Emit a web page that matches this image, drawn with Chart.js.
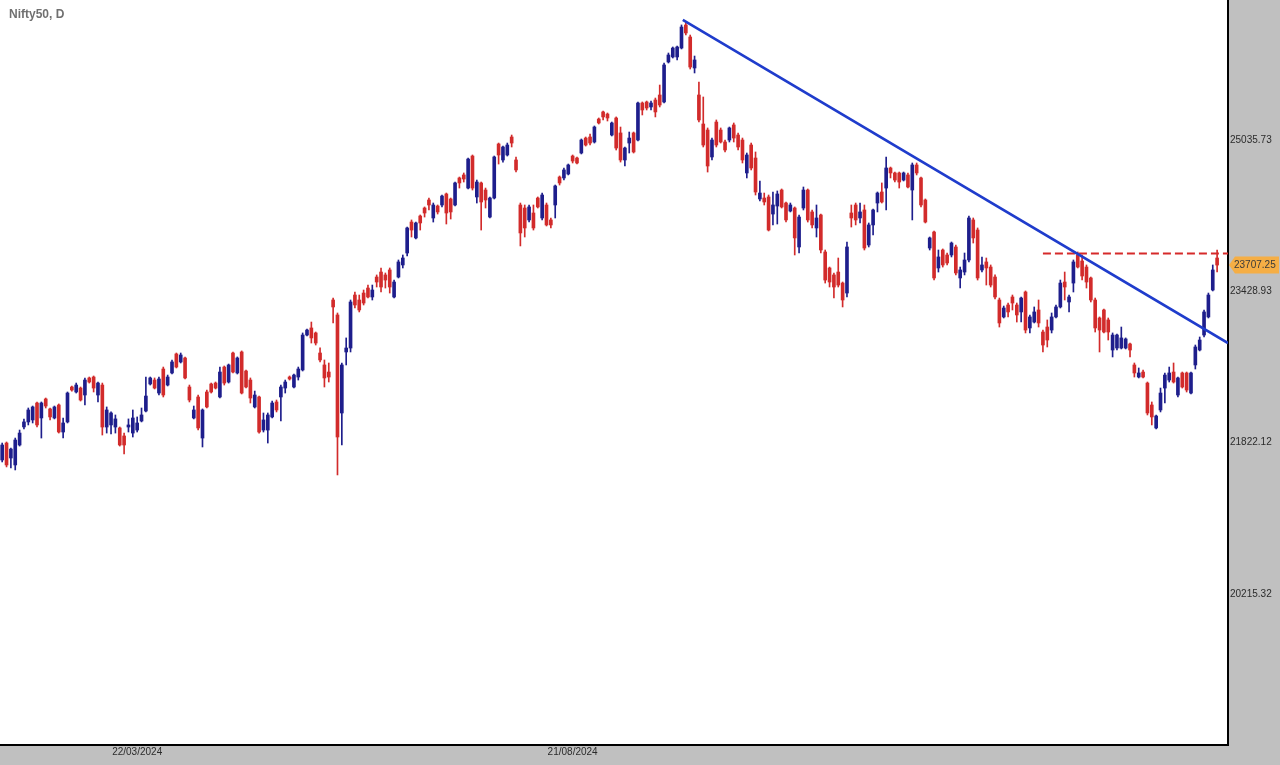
<!DOCTYPE html>
<html>
<head>
<meta charset="utf-8">
<script src="https://cdn.jsdelivr.net/npm/chart.js@4.4.1/dist/chart.umd.min.js"></script>
<style>
  html, body { margin: 0; padding: 0; background: #c0c0c0; }
  #wrap { position: relative; width: 1280px; height: 765px; }
  #title { position: absolute; left: 9px; top: 7px; font: bold 12px "Liberation Sans", Arial, sans-serif; color: #707070; }
</style>
</head>
<body>
<div id="wrap">
  <canvas id="chart" width="1280" height="765"></canvas>
  <div id="title">Nifty50, D</div>
</div>
<script>
// daily candles (index 0 = first bar on the left)
const opens = [21637,21817,21658,21584,21796,21988,22041,22062,22242,22083,22285,22179,22083,22221,21934,22041,22412,22359,22401,22327,
  22508,22518,22327,22433,21987,22009,21987,21977,21892,21987,21923,21955,22051,22157,22444,22486,22348,22603,22433,22561,
  22763,22678,22720,22412,22083,22306,21870,22359,22444,22454,22306,22624,22465,22773,22561,22784,22582,22486,22200,22306,
  21955,21955,22094,22253,22306,22401,22518,22412,22518,22593,22964,23039,22986,22773,22646,22571,23336,23177,22136,22784,
  22826,23389,23336,23410,23463,23368,23580,23633,23602,23655,23368,23580,23708,23835,24164,23995,24228,24313,24398,24207,
  24334,24345,24462,24409,24345,24632,24664,24525,24865,24430,24579,24504,24217,24419,24993,24823,24876,25067,24823,24345,
  24313,24186,24260,24419,24207,24345,24186,24345,24642,24632,24674,24865,24844,24897,25056,25067,25014,25258,25333,25311,
  25088,25269,25110,24823,25003,25110,25035,25428,25439,25386,25460,25513,25439,25864,25917,25917,26012,26257,26129,25800,
  25513,25205,25141,24855,25226,25141,25014,25035,25195,25088,25035,24685,24982,24844,24409,24419,24430,24249,24334,24504,
  24366,24281,24313,23899,24313,24504,24271,24101,24239,23846,23676,23602,23633,23516,23410,24260,24345,24207,24292,23920,
  24133,24366,24483,24525,24738,24685,24685,24610,24664,24504,24770,24632,24398,23888,24058,23676,23867,23814,23814,23899,
  23570,23633,23761,24186,24079,23655,23740,23686,23580,23336,23156,23283,23368,23283,23209,23421,23039,23102,23230,22996,
  23049,23017,23156,23262,23527,23315,23516,23814,23750,23686,23570,23336,23145,23230,23124,22805,22826,22826,22826,22869,
  22646,22518,22571,22454,22221,21977,22168,22401,22486,22571,22327,22561,22561,22348,22646,22805,22964,23156,23442,23782];

const highs = [21817,21828,21764,21870,21955,22072,22189,22210,22253,22253,22295,22189,22210,22232,22083,22359,22423,22454,22412,22508,
  22518,22529,22465,22454,22200,22147,22115,21987,21923,22073,22168,22094,22189,22518,22518,22508,22518,22624,22539,22699,
  22773,22773,22731,22433,22210,22327,22179,22380,22454,22465,22624,22635,22656,22784,22731,22795,22593,22508,22369,22316,
  22136,22136,22263,22274,22433,22486,22529,22550,22624,22986,23028,23102,22996,22827,22699,22667,23357,23198,22667,22933,
  23336,23421,23389,23442,23495,23495,23602,23676,23623,23676,23548,23761,23814,24111,24186,24164,24239,24324,24419,24366,
  24345,24451,24472,24419,24589,24642,24685,24844,24876,24610,24589,24525,24430,24865,25003,24971,25003,25088,24855,24366,
  24345,24345,24345,24430,24472,24366,24207,24557,24653,24738,24780,24876,24855,25046,25067,25099,25184,25269,25343,25322,
  25226,25280,25173,24961,25120,25120,25439,25439,25449,25449,25481,25619,25853,25959,26023,26033,26257,26288,26150,25927,
  25651,25492,25163,25056,25248,25163,25035,25173,25216,25110,25056,24897,25003,24908,24600,24472,24451,24483,24494,24515,
  24377,24366,24324,24239,24536,24515,24292,24345,24249,23867,23686,23623,23782,23527,23952,24345,24366,24366,24345,24154,
  24302,24483,24579,24855,24748,24695,24695,24695,24685,24791,24791,24642,24409,24005,24069,23867,23878,23835,23952,23920,
  23686,23835,24228,24207,24101,23793,23782,23708,23602,23357,23272,23304,23389,23304,23368,23432,23177,23262,23336,23017,
  23124,23198,23283,23548,23633,23389,23761,23846,23814,23708,23580,23357,23156,23240,23145,22986,22975,23049,22933,22879,
  22667,22614,22593,22465,22253,22115,22401,22561,22624,22667,22518,22571,22571,22571,22858,22943,23230,23410,23708,23867];

const lows = [21616,21563,21552,21531,21785,21966,22009,22030,21987,21870,22189,22062,22073,21923,21870,22030,22369,22348,22263,22221,
  22454,22359,22253,21902,21923,21913,21923,21785,21700,21934,21881,21934,22041,22147,22433,22391,22327,22306,22423,22550,
  22614,22667,22497,22253,22073,21955,21775,22189,22348,22391,22295,22433,22454,22561,22550,22338,22401,22242,22189,21923,
  21934,21817,22083,22147,22051,22348,22486,22401,22486,22582,22954,22879,22858,22678,22412,22465,23092,21478,21796,22646,
  22784,23251,23209,23283,23357,23336,23474,23421,23463,23410,23357,23570,23676,23803,24005,23984,24079,24217,24292,24164,
  24249,24324,24143,24196,24334,24525,24589,24515,24504,24366,24079,24313,24207,24409,24780,24801,24865,24961,24695,23910,
  24005,24164,24079,24313,24186,24122,24101,24207,24557,24610,24664,24791,24780,24887,24971,24982,25003,25205,25248,25237,
  25078,24929,24801,24759,24897,24897,25025,25301,25354,25354,25280,25386,25428,25853,25906,25885,26002,26150,25789,25747,
  25226,24961,24695,24823,24961,25003,24908,25014,25014,24929,24791,24632,24717,24451,24387,24345,24069,24133,24143,24313,
  24164,24271,23814,23835,24292,24164,24101,24005,23835,23516,23474,23357,23474,23262,23368,24111,24133,24154,23867,23899,
  24026,24271,24366,24292,24632,24589,24525,24600,24525,24186,24664,24324,24154,23867,23548,23633,23686,23708,23793,23602,
  23464,23602,23740,23941,23548,23633,23495,23474,23347,23049,23145,23156,23230,23102,23102,22986,22986,23092,23049,22784,
  22837,22986,23145,23251,23336,23209,23421,23676,23548,23463,23315,22996,22784,22986,22911,22731,22805,22816,22816,22731,
  22518,22508,22508,22115,22009,21966,22147,22242,22465,22454,22306,22401,22359,22338,22603,22795,22943,23145,23432,23633];

const closes = [21796,21584,21753,21849,21923,22041,22168,22200,22009,22242,22210,22094,22200,21934,22030,22348,22380,22433,22274,22486,
  22465,22401,22454,21987,22168,22136,22073,21796,21796,22009,22083,22030,22115,22316,22508,22401,22497,22327,22518,22678,
  22624,22752,22508,22274,22168,21977,22168,22200,22359,22401,22571,22454,22646,22571,22720,22348,22412,22295,22327,21934,
  22062,22115,22242,22168,22412,22465,22497,22539,22603,22964,23017,22933,22879,22699,22508,22518,23262,21881,22646,22826,
  23315,23283,23230,23304,23368,23442,23527,23474,23548,23474,23527,23740,23782,24101,24079,24154,24154,24260,24345,24345,
  24271,24440,24260,24271,24579,24579,24621,24833,24525,24589,24377,24398,24419,24855,24876,24961,24982,25003,24717,24048,
  24101,24324,24101,24324,24451,24133,24133,24547,24579,24717,24770,24812,24791,25035,24982,25003,25173,25216,25280,25269,
  25216,24950,24823,24950,25056,24908,25428,25354,25375,25428,25333,25407,25832,25938,26012,26023,26235,26172,25810,25885,
  25248,24982,24759,25035,24982,25014,24929,25163,25056,24961,24823,24876,24738,24483,24472,24377,24079,24345,24462,24324,
  24186,24345,23995,24217,24504,24186,24133,24207,23867,23548,23527,23474,23495,23336,23899,24207,24186,24271,23888,24133,
  24292,24472,24377,24738,24685,24610,24589,24685,24536,24770,24685,24345,24164,23995,23570,23793,23708,23729,23941,23623,
  23655,23761,24207,23995,23570,23708,23676,23495,23368,23092,23251,23209,23304,23177,23357,23017,23156,23209,23092,22858,
  22911,23156,23262,23516,23474,23368,23740,23686,23591,23527,23336,23039,23017,22996,22996,22964,22964,22933,22922,22805,
  22561,22561,22518,22136,22094,22104,22348,22539,22561,22465,22508,22412,22380,22561,22837,22911,23209,23389,23655,23707.25];

// date labels shown under the bar index they belong to
const dateTickIndex = [31, 131];
const dateTickText = ['22/03/2024', '21/08/2024'];

// price axis labels
const priceTicks = [20215.32, 21822.12, 23428.93, 25035.73];
const lastPrice = 23707.25;

// drawn lines: falling trend line from the top, dashed resistance
const trendLine = [{ x: 156.3, y: 26310 }, { x: 281.5, y: 22879 }];
const resistLine = [{ x: 239.0, y: 23830 }, { x: 281.5, y: 23830 }];

const BLUE = '#1e1e8c';
const RED = '#d22b2b';
const slots = closes.length + 2;   // two empty bars at the right edge
const labels = Array.from({ length: slots }, (_, i) => i);

const candleColor = ctx => {
  const i = ctx.dataIndex;
  return closes[i] >= opens[i] ? BLUE : RED;
};

const noPad = scale => {
  scale.paddingTop = 0;
  scale.paddingBottom = 0;
  scale.paddingLeft = 0;
  scale.paddingRight = 0;
};

const background = {
  id: 'background',
  beforeDraw(chart) {
    const { ctx, chartArea } = chart;
    ctx.save();
    ctx.fillStyle = '#c0c0c0';
    ctx.fillRect(0, 0, chart.width, chart.height);
    ctx.fillStyle = '#ffffff';
    ctx.fillRect(0, 0, chartArea.right, chartArea.bottom);
    ctx.restore();
  }
};

const priceTag = {
  id: 'priceTag',
  afterDraw(chart) {
    const { ctx, chartArea } = chart;
    const y = chart.scales.y.getPixelForValue(lastPrice);
    const x0 = chartArea.right + 1;
    ctx.save();
    ctx.fillStyle = '#f5ae45';
    ctx.beginPath();
    ctx.moveTo(x0, y);
    ctx.lineTo(x0 + 6, y - 8.5);
    ctx.lineTo(chart.width - 1, y - 8.5);
    ctx.lineTo(chart.width - 1, y + 8.5);
    ctx.lineTo(x0 + 6, y + 8.5);
    ctx.closePath();
    ctx.fill();
    ctx.fillStyle = '#3a3a3a';
    ctx.font = '10px "Liberation Sans", Arial, sans-serif';
    ctx.textBaseline = 'middle';
    ctx.fillText(lastPrice.toFixed(2), x0 + 5, y + 0.5);
    ctx.restore();
  }
};

new Chart(document.getElementById('chart'), {
  type: 'bar',
  data: {
    labels: labels,
    datasets: [
      {
        type: 'line', xAxisID: 'xl', yAxisID: 'y',
        data: trendLine, borderColor: '#1f3ccc', borderWidth: 2.6,
        pointRadius: 0, tension: 0, order: 0
      },
      {
        type: 'line', xAxisID: 'xl', yAxisID: 'y',
        data: resistLine, borderColor: '#d62a2a', borderWidth: 2,
        borderDash: [8, 4], pointRadius: 0, order: 0
      },
      {
        label: 'body', xAxisID: 'x', yAxisID: 'y',
        data: opens.map((o, i) => [o, closes[i]]),
        backgroundColor: candleColor, barThickness: 3, minBarLength: 1,
        grouped: false, order: 1
      },
      {
        label: 'wick', xAxisID: 'x', yAxisID: 'y',
        data: lows.map((l, i) => [l, highs[i]]),
        backgroundColor: candleColor, barThickness: 1,
        grouped: false, order: 2
      }
    ]
  },
  options: {
    responsive: false,
    animation: false,
    devicePixelRatio: 1,
    layout: { padding: 0 },
    plugins: { legend: { display: false }, tooltip: { enabled: false } },
    scales: {
      x: {
        type: 'category',
        offset: true,
        grid: { display: false, drawTicks: false },
        border: { display: true, color: '#000', width: 2 },
        ticks: {
          autoSkip: false, maxRotation: 0, minRotation: 0, padding: 1,
          color: '#2b2b2b',
          font: { family: '"Liberation Sans", Arial, sans-serif', size: 10 },
          callback: (value, index) => {
            const k = dateTickIndex.indexOf(index);
            return k >= 0 ? dateTickText[k] : '';
          }
        },
        afterFit: scale => { scale.height = 20; noPad(scale); }
      },
      xl: {
        type: 'linear', display: false, offset: false,
        grid: { offset: false },
        min: -0.5, max: slots - 0.5
      },
      y: {
        position: 'right',
        min: 18610, max: 26522,
        grid: { display: false, drawTicks: false },
        border: { display: true, color: '#000', width: 2 },
        ticks: {
          autoSkip: false, padding: 2,
          color: '#2b2b2b',
          font: { family: '"Liberation Sans", Arial, sans-serif', size: 10 },
          callback: v => Number(v).toFixed(2)
        },
        afterBuildTicks: scale => { scale.ticks = priceTicks.map(v => ({ value: v })); },
        afterFit: scale => { scale.width = 52; noPad(scale); }
      }
    }
  },
  plugins: [background, priceTag]
});
</script>
</body>
</html>
